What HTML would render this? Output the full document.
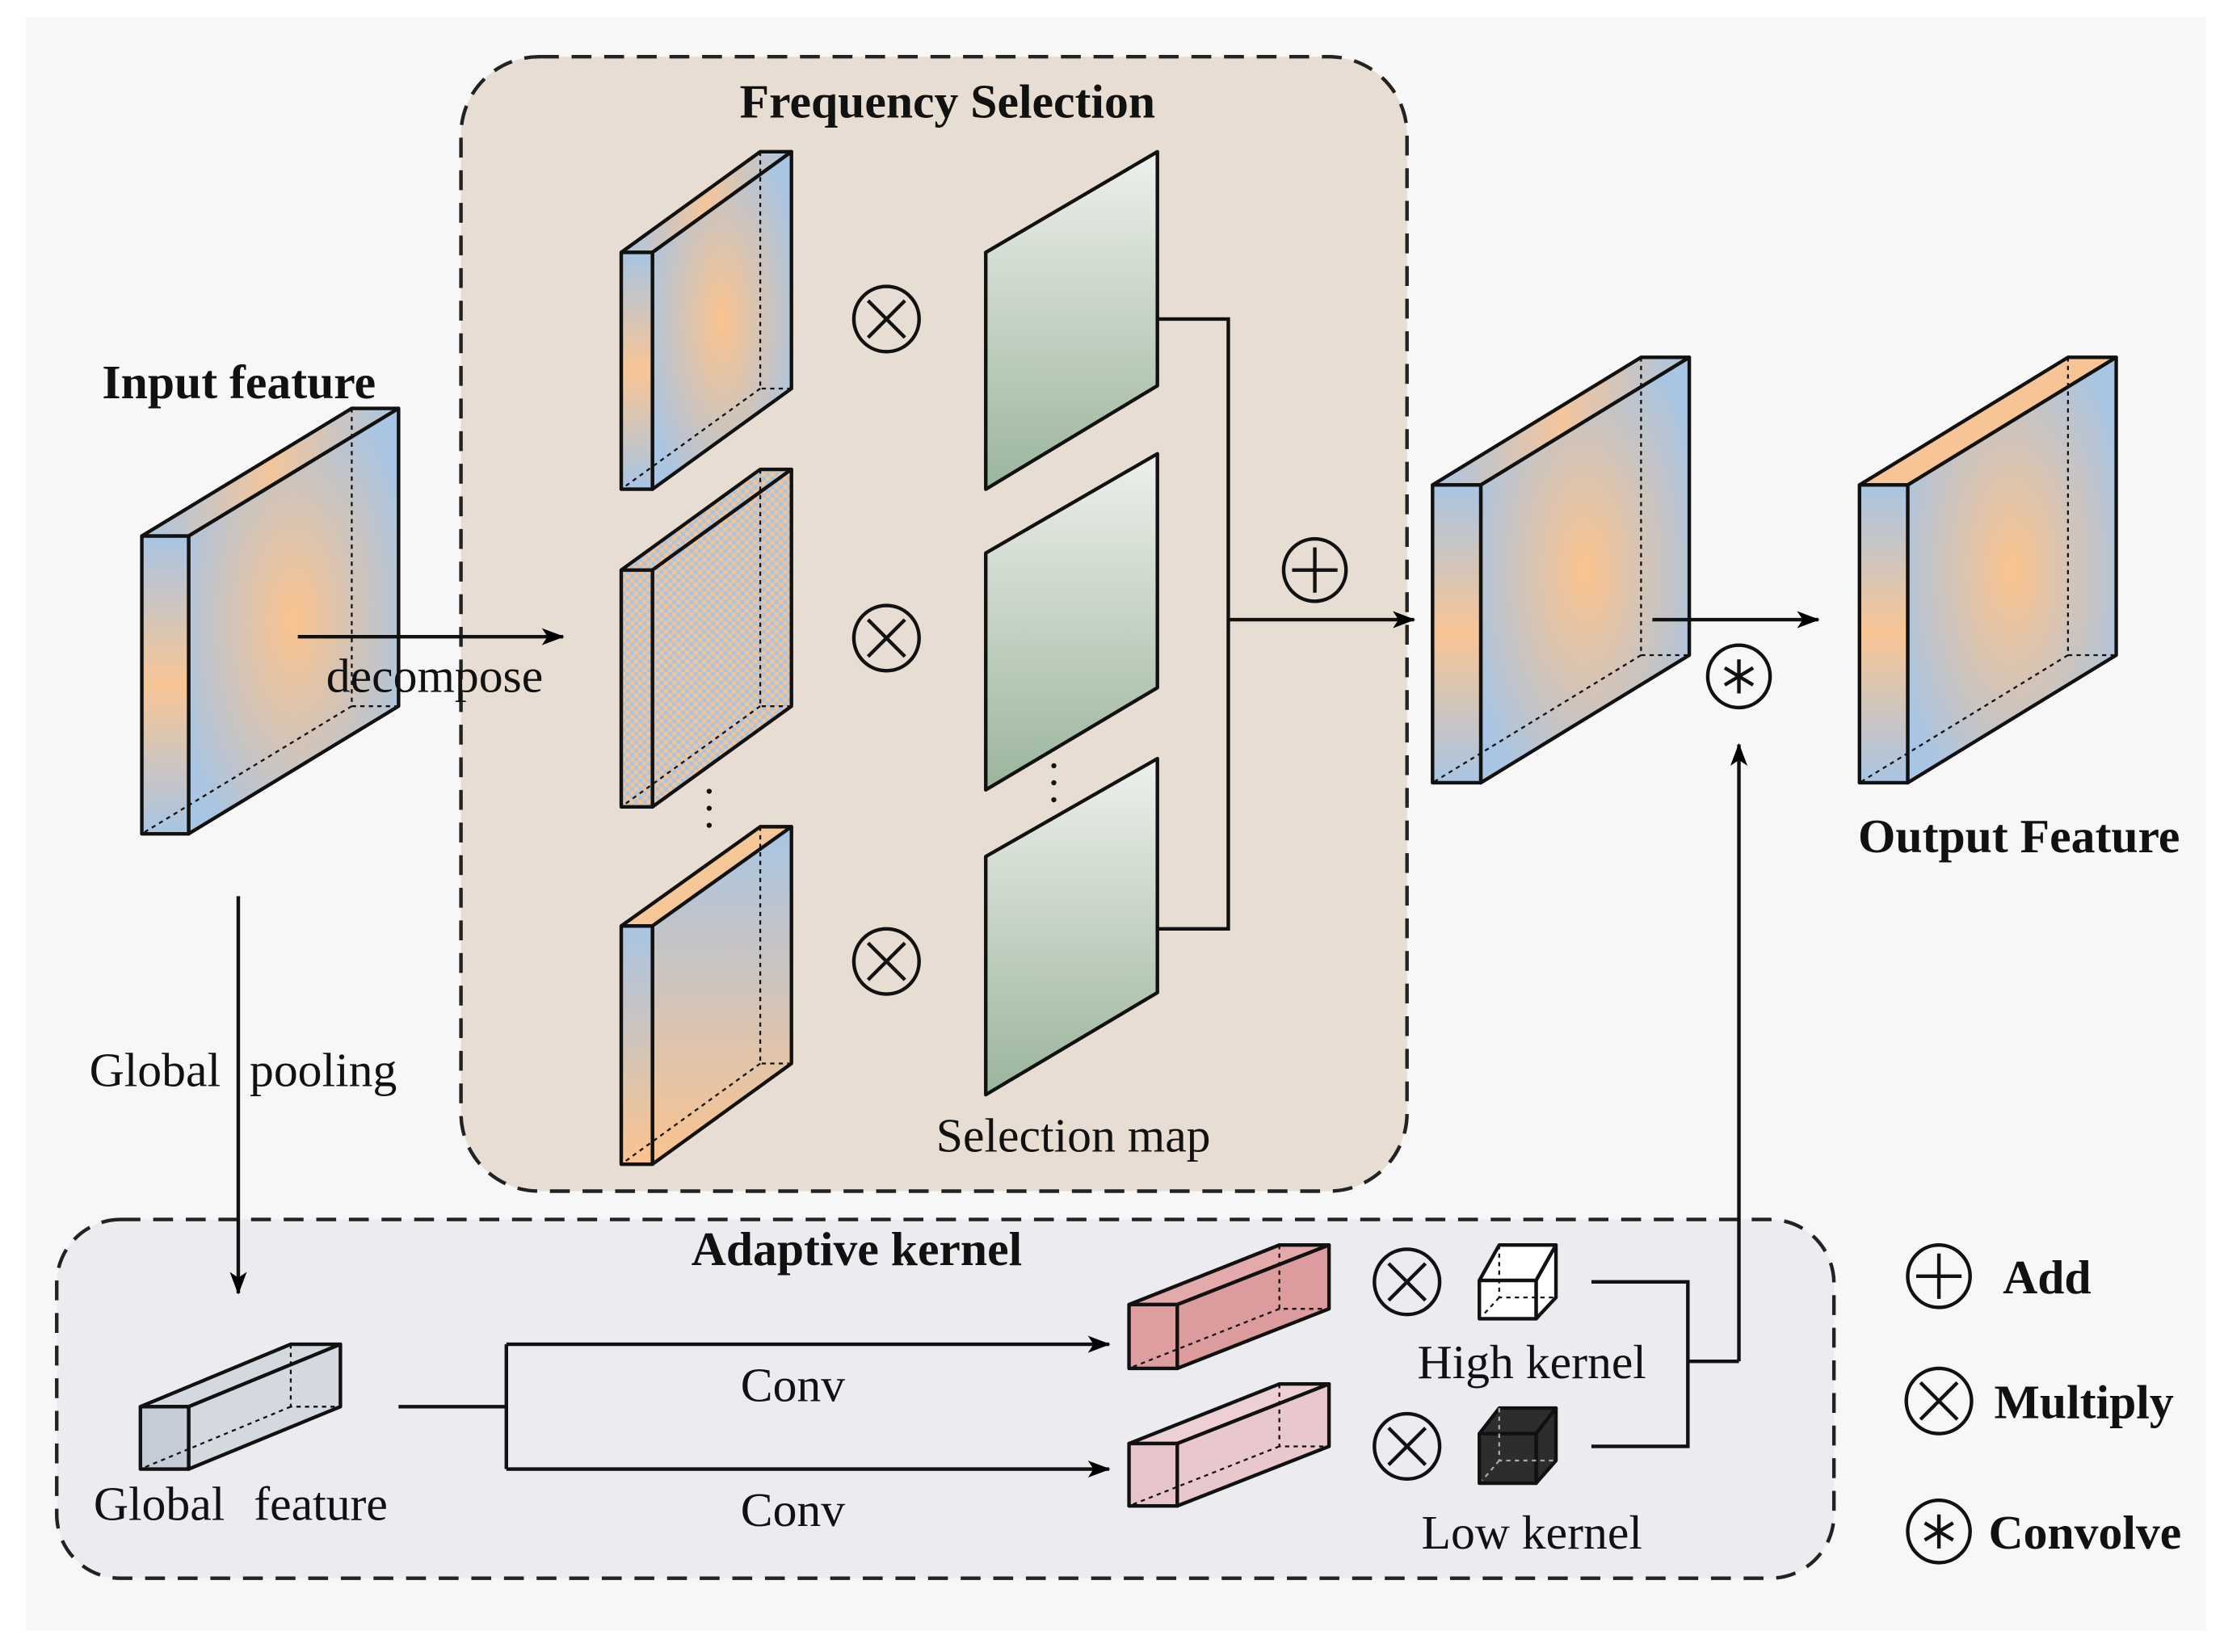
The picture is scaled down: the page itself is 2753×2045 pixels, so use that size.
<!DOCTYPE html>
<html><head><meta charset="utf-8"><style>html,body{margin:0;padding:0;background:#fff}svg{display:block}</style></head>
<body>
<svg width="2753" height="2045" viewBox="0 0 1568 1165" preserveAspectRatio="none" xmlns="http://www.w3.org/2000/svg" font-family="'Liberation Serif', serif">
<defs>
<radialGradient id="rg" cx="0.5" cy="0.5" r="0.6"><stop offset="0" stop-color="#fbc38e"/><stop offset="1" stop-color="#a8c5e3"/></radialGradient>
<linearGradient id="lgf" x1="0" y1="0" x2="0" y2="1"><stop offset="0" stop-color="#a8c5e3"/><stop offset="0.5" stop-color="#f8c596"/><stop offset="1" stop-color="#a8c5e3"/></linearGradient>
<linearGradient id="lg3" x1="0" y1="0" x2="0" y2="1"><stop offset="0" stop-color="#a8c5e3"/><stop offset="1" stop-color="#fbc38e"/></linearGradient>
<linearGradient id="tp" x1="0" y1="0" x2="1" y2="0"><stop offset="0" stop-color="#a8c5e3"/><stop offset="0.5" stop-color="#f3c59c"/><stop offset="1" stop-color="#a8c5e3"/></linearGradient>
<linearGradient id="sm" x1="0" y1="0" x2="0" y2="1"><stop offset="0" stop-color="#eef0ec"/><stop offset="1" stop-color="#9bb59c"/></linearGradient>
<pattern id="chk" width="6" height="6" patternUnits="userSpaceOnUse"><rect width="6" height="6" fill="#a8c5e3"/><rect width="3" height="3" fill="#f6c393"/><rect x="3" y="3" width="3" height="3" fill="#f6c393"/></pattern>
<marker id="ar" markerWidth="16" markerHeight="12" refX="15" refY="6" orient="auto" markerUnits="userSpaceOnUse" viewBox="0 0 16 12"><path d="M0,0 L16,6 L0,12 L4,6z" fill="#000"/></marker>
</defs>
<rect width="1568" height="1165" fill="#fff"/>
<rect x="18" y="12" width="1537" height="1138" fill="#f7f7f7"/>
<rect x="325" y="40" width="667" height="800" rx="55" fill="#e8ddd3" stroke="#222" stroke-width="2.5" stroke-dasharray="14,9"/>
<rect x="40" y="860" width="1253" height="253" rx="45" fill="#ebebf0" stroke="#222" stroke-width="2.5" stroke-dasharray="14,9"/>
<g stroke="#111" stroke-width="2.5" stroke-linejoin="round">
<polygon points="100,378 248,288 281,288 133,378" fill="url(#tp)"/>
<polygon points="133,378 281,288 281,498 133,588" fill="url(#rg)"/>
<polygon points="100,378 133,378 133,588 100,588" fill="url(#lgf)"/>
<polygon points="438,178 536,107 558,107 460,178" fill="url(#tp)"/>
<polygon points="460,178 558,107 558,274 460,345" fill="url(#rg)"/>
<polygon points="438,178 460,178 460,345 438,345" fill="url(#lgf)"/>
<polygon points="438,402 536,331 558,331 460,402" fill="url(#chk)"/>
<polygon points="460,402 558,331 558,498 460,569" fill="url(#chk)"/>
<polygon points="438,402 460,402 460,569 438,569" fill="url(#chk)"/>
<polygon points="438,653 536,583 558,583 460,653" fill="#f6c797"/>
<polygon points="460,653 558,583 558,750 460,821" fill="url(#lg3)"/>
<polygon points="438,653 460,653 460,821 438,821" fill="url(#lg3)"/>
<polygon points="695,178 816,107 816,272 695,345" fill="url(#sm)"/>
<polygon points="695,390 816,320 816,485 695,557" fill="url(#sm)"/>
<polygon points="695,604 816,535 816,700 695,772" fill="url(#sm)"/>
<polygon points="1010,342 1157,252 1191,252 1044,342" fill="url(#tp)"/>
<polygon points="1044,342 1191,252 1191,462 1044,552" fill="url(#rg)"/>
<polygon points="1010,342 1044,342 1044,552 1010,552" fill="url(#lgf)"/>
<polygon points="1311,342 1458,252 1492,252 1345,342" fill="#f7c595"/>
<polygon points="1345,342 1492,252 1492,462 1345,552" fill="url(#rg)"/>
<polygon points="1311,342 1345,342 1345,552 1311,552" fill="url(#lgf)"/>
<polygon points="99,992 205,948 240,948 133,992" fill="#d4d9e0"/>
<polygon points="133,992 240,948 240,992 133,1036" fill="#d4d9e0"/>
<polygon points="99,992 133,992 133,1036 99,1036" fill="#c5ccd5"/>
<polygon points="796,920 902,878 937,878 830,920" fill="#e4aaab"/>
<polygon points="830,920 937,878 937,923 830,965" fill="#dc9c9e"/>
<polygon points="796,920 830,920 830,965 796,965" fill="#de9ea0"/>
<polygon points="796,1018 902,976 937,976 830,1018" fill="#ecd0d5"/>
<polygon points="830,1018 937,976 937,1020 830,1062" fill="#e8c7cd"/>
<polygon points="796,1018 830,1018 830,1062 796,1062" fill="#e6c4ca"/>
<polygon points="1043,903 1057,878 1097,878 1083,903" fill="#fff"/>
<polygon points="1083,903 1097,878 1097,915 1083,930" fill="#fff"/>
<rect x="1043" y="903" width="40" height="27" fill="#fff"/>
<polygon points="1043,1011 1057,993 1097,993 1083,1011" fill="#2d2d2d"/>
<polygon points="1083,1011 1097,993 1097,1030 1083,1046" fill="#2d2d2d"/>
<rect x="1043" y="1011" width="40" height="35" fill="#2d2d2d"/>
</g>
<g stroke="#111" stroke-width="1.3" stroke-dasharray="3,3" fill="none">
<path d="M248,288 V498 H281 M248,498 L100,588"/>
<path d="M536,107 V274 H558 M536,274 L438,345"/>
<path d="M536,331 V498 H558 M536,498 L438,569"/>
<path d="M536,583 V750 H558 M536,750 L438,821"/>
<path d="M1157,252 V462 H1191 M1157,462 L1010,552"/>
<path d="M1458,252 V462 H1492 M1458,462 L1311,552"/>
<path d="M205,948 V992 H240 M205,992 L99,1036"/>
<path d="M902,878 V923 H937 M902,923 L796,965"/>
<path d="M902,976 V1020 H937 M902,1020 L796,1062"/>
<path d="M1057,878 V915 H1097 M1057,915 L1045,928"/>
<path d="M1057,993 V1030 H1097 M1057,1030 L1045,1044" stroke="#aaa"/>
</g>
<g stroke="#111" stroke-width="2.5" fill="none">
<path d="M210,449 H397" marker-end="url(#ar)"/>
<path d="M168,632 V912" marker-end="url(#ar)"/>
<path d="M816,225 H866 V655 H816"/>
<path d="M866,437 H997" marker-end="url(#ar)"/>
<path d="M1165,437 H1282" marker-end="url(#ar)"/>
<path d="M1226,960 V525" marker-end="url(#ar)"/>
<path d="M281,992 H357 M357,948 V1036"/>
<path d="M357,948 H782" marker-end="url(#ar)"/>
<path d="M357,1036 H782" marker-end="url(#ar)"/>
<path d="M1122,904 H1190 V1020 H1122 M1190,960 H1226"/>
</g>
<g stroke="#111" stroke-width="2.5" fill="none">
<circle cx="625" cy="225" r="23"/><path d="M612,212 L638,238 M638,212 L612,238"/>
<circle cx="625" cy="450" r="23"/><path d="M612,437 L638,463 M638,437 L612,463"/>
<circle cx="625" cy="678" r="23"/><path d="M612,665 L638,691 M638,665 L612,691"/>
<circle cx="992" cy="904" r="23"/><path d="M979,891 L1005,917 M1005,891 L979,917"/>
<circle cx="992" cy="1020" r="23"/><path d="M979,1007 L1005,1033 M1005,1007 L979,1033"/>
<circle cx="1367" cy="988" r="23"/><path d="M1354,975 L1380,1001 M1380,975 L1354,1001"/>
<circle cx="927" cy="402" r="22"/><path d="M911,402 H943 M927,386 V418"/>
<circle cx="1367" cy="900" r="22"/><path d="M1351,900 H1383 M1367,884 V916"/>
<circle cx="1226" cy="477" r="22"/><path d="M1226,465 V489 M1216,471 L1236,483 M1236,471 L1216,483"/>
<circle cx="1367" cy="1080" r="22"/><path d="M1367,1068 V1092 M1357,1074 L1377,1086 M1377,1074 L1357,1086"/>
</g>
<g fill="#111">
<circle cx="500" cy="558" r="1.8"/><circle cx="500" cy="570" r="1.8"/><circle cx="500" cy="582" r="1.8"/>
<circle cx="743" cy="540" r="1.8"/><circle cx="743" cy="552" r="1.8"/><circle cx="743" cy="564" r="1.8"/>
</g>
<g font-size="34" fill="#111">
<text x="668" y="83" text-anchor="middle" font-weight="bold">Frequency Selection</text>
<text x="72" y="281" font-weight="bold">Input feature</text>
<text x="1310" y="601" font-weight="bold">Output Feature</text>
<text x="604" y="892" text-anchor="middle" font-weight="bold">Adaptive kernel</text>
<text x="1412" y="912" font-weight="bold">Add</text>
<text x="1406" y="1000" font-weight="bold">Multiply</text>
<text x="1402" y="1092" font-weight="bold">Convolve</text>
<text x="230" y="488">decompose</text>
<text x="63" y="766">Global</text><text x="176" y="766">pooling</text>
<text x="660" y="812">Selection map</text>
<text x="559" y="988" text-anchor="middle">Conv</text>
<text x="559" y="1076" text-anchor="middle">Conv</text>
<text x="66" y="1072">Global</text><text x="179" y="1072">feature</text>
<text x="1080" y="972" text-anchor="middle">High kernel</text>
<text x="1080" y="1092" text-anchor="middle">Low kernel</text>
</g>
</svg>
</body></html>
